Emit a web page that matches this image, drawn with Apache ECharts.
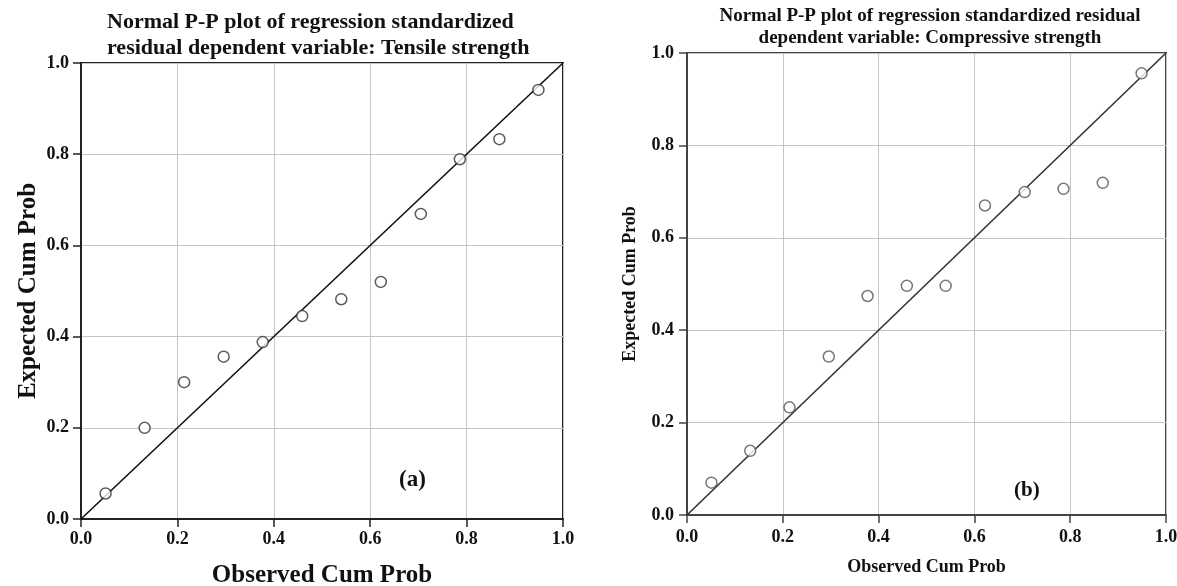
<!DOCTYPE html>
<html>
<head>
<meta charset="utf-8">
<title>Normal P-P plots</title>
<script src="https://cdn.jsdelivr.net/npm/echarts@6/dist/echarts.min.js"></script>
<style>
	html, body { margin: 0; padding: 0; background: #fff; }
	#chart { width: 1177px; height: 586px; }
</style>
</head>
<body>
<div id="chart"></div>
<script>
// observed cumulative probability (same for both panels)
const observed = [0.051, 0.132, 0.214, 0.296, 0.377, 0.459, 0.540, 0.622, 0.705, 0.786, 0.868, 0.949];
// expected cumulative probability, tensile strength (a)
const expectedTensile = [0.056, 0.200, 0.300, 0.356, 0.388, 0.445, 0.482, 0.520, 0.669, 0.789, 0.833, 0.941];
// expected cumulative probability, compressive strength (b)
const expectedCompressive = [0.070, 0.139, 0.233, 0.343, 0.474, 0.496, 0.496, 0.670, 0.699, 0.706, 0.719, 0.956];
// reference line y = x
const refLine = [[0, 0], [1, 1]];
const tickLabels = ['0.0', '0.2', '0.4', '0.6', '0.8', '1.0'];

const serif = '"Liberation Serif", "DejaVu Serif", serif';

function pairs(xs, ys) {
	return xs.map((x, i) => [x, ys[i]]);
}

function makeAxis(gridIndex, opts) {
	return {
		gridIndex: gridIndex,
		type: 'value',
		min: 0,
		max: 1,
		interval: 0.2,
		name: opts.name,
		nameLocation: 'middle',
		nameGap: opts.nameGap,
		nameTextStyle: { fontFamily: serif, fontWeight: 'bold', fontSize: opts.nameSize, color: '#111' },
		axisLine: { show: true, onZero: false, lineStyle: { color: opts.lineColor, width: 2 } },
		axisTick: { show: true, length: 8, lineStyle: { color: opts.lineColor, width: 1.5 } },
		axisLabel: {
			margin: opts.labelMargin,
			fontFamily: serif,
			fontWeight: 'bold',
			fontSize: 18,
			color: '#111',
			formatter: (v) => tickLabels[Math.round(v * 5)]
		},
		splitLine: { show: true, lineStyle: { color: '#c4c4c4', width: 1 } }
	};
}

const chart = echarts.init(document.getElementById('chart'), null, { renderer: 'canvas' });

const option = {
	backgroundColor: '#fff',
	animation: false,
	title: [
		{
			text: 'Normal P-P plot of regression standardized\nresidual dependent variable: Tensile strength',
			left: 102,
			top: 4,
			textStyle: { fontFamily: serif, fontWeight: 'bold', fontSize: 22, lineHeight: 26, color: '#111' }
		},
		{
			text: 'Normal P-P plot of regression standardized residual\ndependent variable: Compressive strength',
			left: 925,
			textAlign: 'center',
			top: 0,
			textStyle: { fontFamily: serif, fontWeight: 'bold', fontSize: 19, lineHeight: 22, color: '#111', align: 'center' }
		}
	],
	grid: [
		{ left: 81, top: 63, width: 482, height: 456, outerBoundsMode: 'none', show: true, borderColor: '#222', borderWidth: 2, backgroundColor: 'transparent' },
		{ left: 687, top: 53, width: 479, height: 462, outerBoundsMode: 'none', show: true, borderColor: '#444', borderWidth: 2, backgroundColor: 'transparent' }
	],
	xAxis: [
		makeAxis(0, { name: 'Observed Cum Prob', nameGap: 44, nameSize: 25, labelMargin: 11, lineColor: '#222' }),
		makeAxis(1, { name: 'Observed Cum Prob', nameGap: 43, nameSize: 18, labelMargin: 13, lineColor: '#444' })
	],
	yAxis: [
		makeAxis(0, { name: 'Expected Cum Prob', nameGap: 40, nameSize: 25, labelMargin: 12, lineColor: '#222' }),
		makeAxis(1, { name: 'Expected Cum Prob', nameGap: 48, nameSize: 18, labelMargin: 13, lineColor: '#444' })
	],
	graphic: [
		{
			type: 'text',
			left: 399,
			top: 469,
			style: { text: '(a)', fontFamily: serif, fontWeight: 'bold', fontSize: 23, fill: '#111' }
		},
		{
			type: 'text',
			left: 1014,
			top: 480,
			style: { text: '(b)', fontFamily: serif, fontWeight: 'bold', fontSize: 21, fill: '#111' }
		}
	],
	series: [
		{
			type: 'line',
			xAxisIndex: 0,
			yAxisIndex: 0,
			data: refLine,
			symbol: 'none',
			lineStyle: { color: '#111', width: 1.6 },
			z: 3
		},
		{
			type: 'scatter',
			xAxisIndex: 0,
			yAxisIndex: 0,
			data: pairs(observed, expectedTensile),
			symbol: 'circle',
			symbolSize: 11,
			itemStyle: { color: '#fff', borderColor: '#333', borderWidth: 1.5 },
			z: 4
		},
		{
			type: 'line',
			xAxisIndex: 1,
			yAxisIndex: 1,
			data: refLine,
			symbol: 'none',
			lineStyle: { color: '#333', width: 1.6 },
			z: 3
		},
		{
			type: 'scatter',
			xAxisIndex: 1,
			yAxisIndex: 1,
			data: pairs(observed, expectedCompressive),
			symbol: 'circle',
			symbolSize: 11,
			itemStyle: { color: '#fff', borderColor: '#555', borderWidth: 1.5 },
			z: 4
		}
	]
};

chart.setOption(option);
</script>
</body>
</html>
